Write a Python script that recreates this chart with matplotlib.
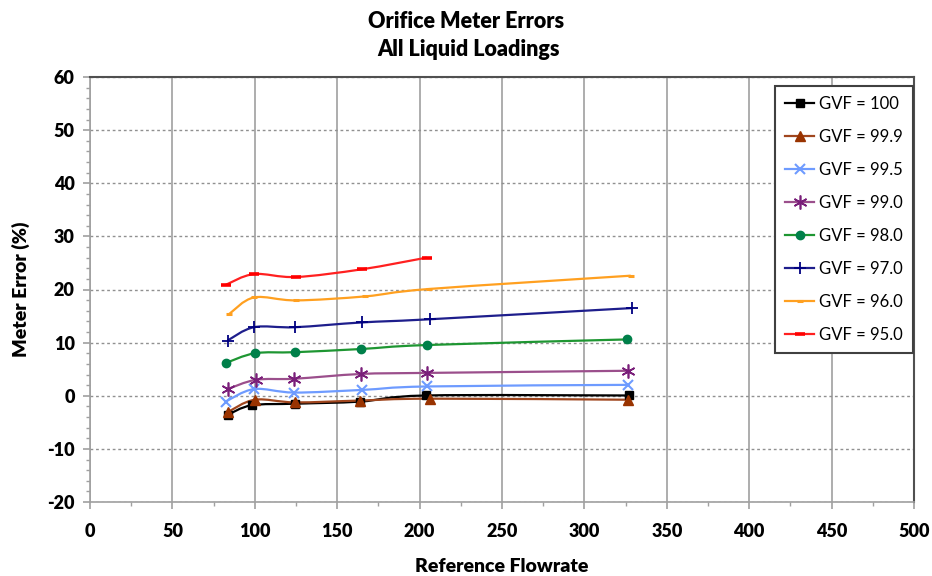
import matplotlib
matplotlib.use("Agg")
import matplotlib.pyplot as plt
from matplotlib.path import Path
from matplotlib.patches import PathPatch
from matplotlib.lines import Line2D
from matplotlib.ticker import MultipleLocator
import numpy as np

plt.rcParams['font.family'] = ['Lato', 'DejaVu Sans']
plt.rcParams['axes.unicode_minus'] = False

labels = ["GVF = 100", "GVF = 99.9", "GVF = 99.5", "GVF = 99.0",
          "GVF = 98.0", "GVF = 97.0", "GVF = 96.0", "GVF = 95.0"]

x_100 = [83.5, 98, 124.6, 164, 203.8, 327.2]
y_100 = [-3.6, -1.8, -1.5, -1.1, 0.05, 0.05]
x_999 = [83.5, 100, 124.6, 164, 206.3, 326.5]
y_999 = [-3.1, -0.75, -1.25, -0.9, -0.55, -0.75]
x_995 = [82.3, 99.5, 124, 165.3, 204.5, 326.5]
y_995 = [-1.1, 1.25, 0.6, 1.1, 1.75, 2.05]
x_990 = [83.5, 100.7, 124, 164.4, 204.3, 326.3]
y_990 = [1.25, 3.0, 3.2, 4.1, 4.3, 4.7]
x_980 = [82.3, 100.1, 124.6, 164.6, 204.5, 325.7]
y_980 = [6.15, 8.0, 8.2, 8.8, 9.55, 10.6]
x_970 = [83.5, 99.5, 124.4, 164.9, 206.3, 328.7]
y_970 = [10.4, 12.9, 12.9, 13.8, 14.4, 16.5]
x_960 = [84.5, 99.5, 125, 166.9, 205.9, 328.1]
y_960 = [15.4, 18.5, 17.95, 18.7, 20.1, 22.6]
x_950 = [82.5, 99.5, 125, 164.9, 204.3]
y_950 = [20.9, 22.9, 22.35, 23.8, 26.0]

xs = [x_100, x_999, x_995, x_990, x_980, x_970, x_960, x_950]
ys = [y_100, y_999, y_995, y_990, y_980, y_970, y_960, y_950]

line_colors = ['#000000', '#A0461E', '#6E9BFF', '#9B4F8C', '#1E9632',
               '#1E1E8C', '#FFA020', '#FF2020']
marker_colors = ['#000000', '#993300', '#6E9BFF', '#7A1F7A', '#00804A',
                 '#000080', '#FFA020', '#FF0000']
markers = ['s', '^', 'x', (6, 2, 0), 'o', '+', '_', '_']
msizes = [6, 7, 7, 10, 6, 9, 5, 7]
mews = [1, 1, 1.5, 1.2, 1, 1.3, 2.2, 2.6]


def smooth_path(x, y):
    p = np.column_stack([x, y]).astype(float)
    n = len(p)
    verts = [p[0]]
    codes = [Path.MOVETO]
    for i in range(n - 1):
        p0 = p[i - 1] if i > 0 else p[i]
        p1 = p[i]
        p2 = p[i + 1]
        p3 = p[i + 2] if i + 2 < n else p[i + 1]
        c1 = p1 + (p2 - p0) / 6.0
        c2 = p2 - (p3 - p1) / 6.0
        verts += [c1, c2, p2]
        codes += [Path.CURVE4] * 3
    return Path(verts, codes)


fig = plt.figure(figsize=(9.32, 5.76), dpi=100)
ax = fig.add_axes([90 / 932, 1 - 502 / 576, 824 / 932, 425 / 576])

ax.set_xlim(0, 500)
ax.set_ylim(-20, 60)
ax.xaxis.set_major_locator(MultipleLocator(50))
ax.xaxis.set_minor_locator(MultipleLocator(25))
ax.yaxis.set_major_locator(MultipleLocator(10))
ax.yaxis.set_minor_locator(MultipleLocator(2))

ax.grid(axis='x', which='major', color='#A0A0A0', linestyle='-', linewidth=1.2)
ax.grid(axis='y', which='major', color='#909090', linestyle=(0, (2, 2)), linewidth=1.0)
ax.set_axisbelow(True)

for s in ['left', 'bottom']:
    ax.spines[s].set_color('#A0A0A0')
    ax.spines[s].set_linewidth(1.2)
for s in ['top', 'right']:
    ax.spines[s].set_color('#505050')
    ax.spines[s].set_linewidth(1.5)

ax.tick_params(axis='both', which='major', direction='out', length=5,
               color='#A0A0A0', width=1.2, labelsize=13)
ax.tick_params(axis='both', which='minor', direction='out', length=3,
               color='#A0A0A0', width=1.0)
ax.tick_params(axis='x', pad=10)
ax.tick_params(axis='y', pad=6)
for lab in ax.get_xticklabels() + ax.get_yticklabels():
    lab.set_fontweight('heavy')

handles = []
for x, y, lc, mc, m, ms, mw, lab in zip(xs, ys, line_colors, marker_colors,
                                         markers, msizes, mews, labels):
    patch = PathPatch(smooth_path(x, y), facecolor='none', edgecolor=lc,
                      linewidth=1.6, zorder=3)
    ax.add_patch(patch)
    ax.plot(x, y, linestyle='none', marker=m, markersize=ms, color=mc,
            markeredgecolor=mc, markeredgewidth=mw, zorder=4)
    handles.append(Line2D([], [], color=lc, linewidth=1.6, marker=m,
                          markersize=ms, markerfacecolor=mc,
                          markeredgecolor=mc, markeredgewidth=mw))

leg = ax.legend(handles, labels, loc='upper right',
                bbox_to_anchor=(913 / 932, 1 - 86 / 576),
                bbox_transform=fig.transFigure, fontsize=12,
                labelspacing=1.02, handlelength=1.75, handletextpad=0.3,
                borderpad=0.6, borderaxespad=0, fancybox=False, framealpha=1,
                edgecolor='#404040')
leg.get_frame().set_linewidth(1.5)

ax.set_xlabel('Reference Flowrate', fontsize=14, fontweight='heavy', labelpad=13)
ax.set_ylabel('Meter Error (%)', fontsize=14, fontweight='heavy', labelpad=12)
fig.text(466 / 932, 1 - 22 / 576, 'Orifice Meter Errors', ha='center',
         va='center', fontsize=15.5, fontweight='heavy')
fig.text(469 / 932, 1 - 50 / 576, 'All Liquid Loadings', ha='center',
         va='center', fontsize=15.5, fontweight='heavy')

fig.savefig('out.png', dpi=100)
